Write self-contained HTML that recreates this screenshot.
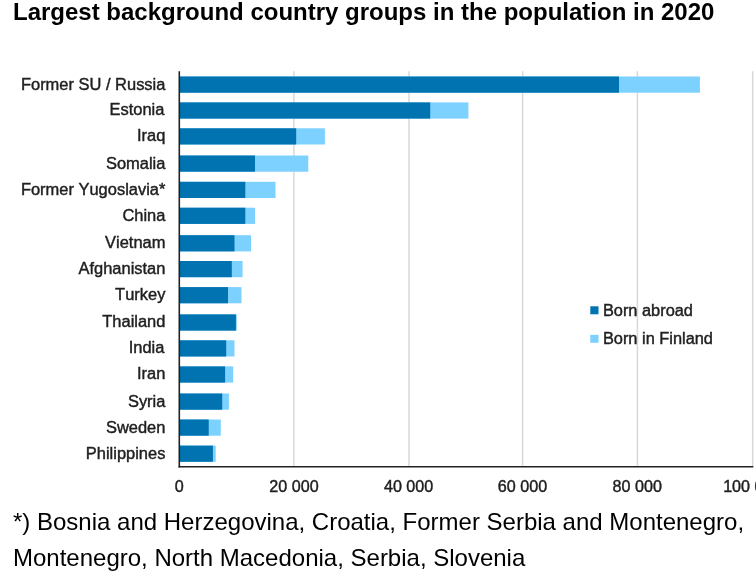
<!DOCTYPE html>
<html lang="en">
<head>
<meta charset="utf-8">
<title>Largest background country groups in the population in 2020</title>
<style>
html,body{margin:0;padding:0;background:#fff;}
body{width:756px;height:572px;overflow:hidden;position:relative;filter:blur(0.35px);font-family:"Liberation Sans",sans-serif;}
h1{position:absolute;left:13px;top:-2px;margin:0;font-size:24px;line-height:28px;font-weight:bold;color:#000;white-space:nowrap;}
svg{position:absolute;left:0;top:0;}
svg text{font-family:"Liberation Sans",sans-serif;font-size:15.8px;fill:#202020;font-kerning:none;stroke:#202020;stroke-width:0.4px;}
p.note{position:absolute;left:13px;top:504px;margin:0;font-size:24px;line-height:36px;color:#000;white-space:nowrap;}
</style>
</head>
<body>
<h1>Largest background country groups in the population in 2020</h1>
<svg width="756" height="572" viewBox="0 0 756 572">
<g stroke="#d8d8d8" stroke-width="1.5" fill="none">
<line x1="293.9" y1="71.2" x2="293.9" y2="466.5"/>
<line x1="409.0" y1="71.2" x2="409.0" y2="466.5"/>
<line x1="522.6" y1="71.2" x2="522.6" y2="466.5"/>
<line x1="637.4" y1="71.2" x2="637.4" y2="466.5"/>
<line x1="752.7" y1="71.2" x2="752.7" y2="466.5"/>
</g>
<g>
<rect x="179.2" y="76.5" width="520.7" height="16.2" fill="#7DD1FF"/>
<rect x="179.2" y="76.5" width="439.8" height="16.2" fill="#0073B0"/>
<rect x="179.2" y="102.4" width="289.2" height="16.2" fill="#7DD1FF"/>
<rect x="179.2" y="102.4" width="251.0" height="16.2" fill="#0073B0"/>
<rect x="179.2" y="128.3" width="145.7" height="16.2" fill="#7DD1FF"/>
<rect x="179.2" y="128.3" width="117.0" height="16.2" fill="#0073B0"/>
<rect x="179.2" y="155.5" width="129.1" height="16.2" fill="#7DD1FF"/>
<rect x="179.2" y="155.5" width="75.8" height="16.2" fill="#0073B0"/>
<rect x="179.2" y="181.8" width="96.3" height="16.2" fill="#7DD1FF"/>
<rect x="179.2" y="181.8" width="66.1" height="16.2" fill="#0073B0"/>
<rect x="179.2" y="207.7" width="75.8" height="16.2" fill="#7DD1FF"/>
<rect x="179.2" y="207.7" width="66.1" height="16.2" fill="#0073B0"/>
<rect x="179.2" y="235.2" width="71.8" height="16.2" fill="#7DD1FF"/>
<rect x="179.2" y="235.2" width="55.3" height="16.2" fill="#0073B0"/>
<rect x="179.2" y="261.0" width="63.4" height="16.2" fill="#7DD1FF"/>
<rect x="179.2" y="261.0" width="52.6" height="16.2" fill="#0073B0"/>
<rect x="179.2" y="287.1" width="62.3" height="16.2" fill="#7DD1FF"/>
<rect x="179.2" y="287.1" width="48.8" height="16.2" fill="#0073B0"/>
<rect x="179.2" y="314.4" width="57.6" height="16.2" fill="#7DD1FF"/>
<rect x="179.2" y="314.4" width="56.7" height="16.2" fill="#0073B0"/>
<rect x="179.2" y="340.3" width="55.3" height="16.2" fill="#7DD1FF"/>
<rect x="179.2" y="340.3" width="47.0" height="16.2" fill="#0073B0"/>
<rect x="179.2" y="366.4" width="54.0" height="16.2" fill="#7DD1FF"/>
<rect x="179.2" y="366.4" width="45.9" height="16.2" fill="#0073B0"/>
<rect x="179.2" y="393.5" width="49.7" height="16.2" fill="#7DD1FF"/>
<rect x="179.2" y="393.5" width="43.0" height="16.2" fill="#0073B0"/>
<rect x="179.2" y="419.5" width="41.6" height="16.2" fill="#7DD1FF"/>
<rect x="179.2" y="419.5" width="29.5" height="16.2" fill="#0073B0"/>
<rect x="179.2" y="445.6" width="36.5" height="16.2" fill="#7DD1FF"/>
<rect x="179.2" y="445.6" width="33.7" height="16.2" fill="#0073B0"/>
</g>
<g stroke="#222" stroke-width="1.6" fill="none">
<line x1="179.3" y1="71.2" x2="179.3" y2="467.5"/>
<line x1="178.6" y1="466.8" x2="753.3" y2="466.8"/>
</g>
<g text-anchor="end">
<text transform="translate(165.4 89.5) scale(1.042 1)">Former SU / Russia</text>
<text transform="translate(164.4 115.4) scale(1.042 1)">Estonia</text>
<text transform="translate(165.4 141.3) scale(1.042 1)">Iraq</text>
<text transform="translate(165.4 168.5) scale(1.042 1)">Somalia</text>
<text transform="translate(165.4 194.8) scale(1.042 1)">Former Yugoslavia*</text>
<text transform="translate(165.4 220.7) scale(1.042 1)">China</text>
<text transform="translate(165.4 248.2) scale(1.042 1)">Vietnam</text>
<text transform="translate(165.4 274.0) scale(1.042 1)">Afghanistan</text>
<text transform="translate(165.4 300.1) scale(1.042 1)">Turkey</text>
<text transform="translate(165.4 327.4) scale(1.042 1)">Thailand</text>
<text transform="translate(164.4 353.3) scale(1.042 1)">India</text>
<text transform="translate(165.4 379.4) scale(1.042 1)">Iran</text>
<text transform="translate(165.4 406.5) scale(1.042 1)">Syria</text>
<text transform="translate(165.4 432.5) scale(1.042 1)">Sweden</text>
<text transform="translate(165.4 458.6) scale(1.042 1)">Philippines</text>
</g>
<g text-anchor="middle">
<text transform="translate(179.2 492) scale(1.022 1)">0</text>
<text transform="translate(294.0 492) scale(1.022 1)">20 000</text>
<text transform="translate(408.6 492) scale(1.022 1)">40 000</text>
<text transform="translate(522.5 492) scale(1.022 1)">60 000</text>
<text transform="translate(637.2 492) scale(1.022 1)">80 000</text>
<text transform="translate(752.3 492) scale(1.022 1)">100 000</text>
</g>
<rect x="590.3" y="306.3" width="8.2" height="8" fill="#0073B0"/>
<text transform="translate(602.9 315.8) scale(1.036 1)">Born abroad</text>
<rect x="590.3" y="334.8" width="8.2" height="8" fill="#7DD1FF"/>
<text transform="translate(602.9 344.4) scale(1.036 1)">Born in Finland</text>
</svg>
<p class="note">*) Bosnia and Herzegovina, Croatia, Former Serbia and Montenegro,<br>Montenegro, North Macedonia, Serbia, Slovenia</p>
</body>
</html>
